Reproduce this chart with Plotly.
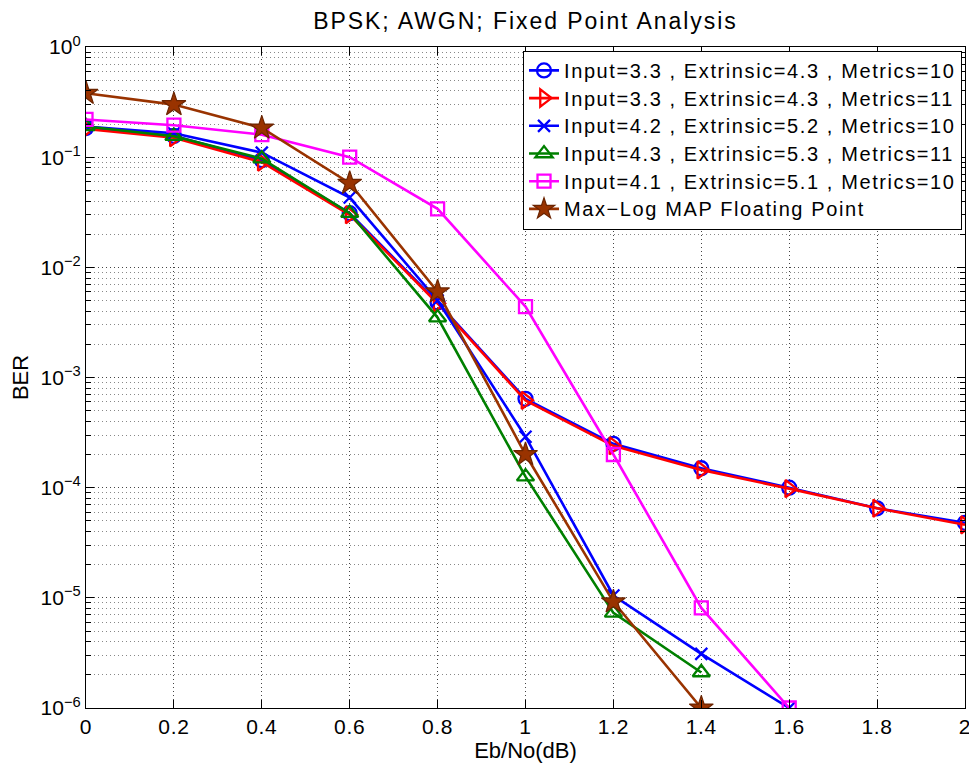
import plotly.graph_objects as go

ebno = [0, 0.2, 0.4, 0.6, 0.8, 1.0, 1.2, 1.4, 1.6, 1.8, 2.0]

ber_in33_ex43_m10 = [0.184, 0.156, 0.094, 0.031, 0.0048, 6.4e-4, 2.5e-4, 1.5e-4, 1.0e-4, 6.5e-5, 4.8e-5]
ber_in33_ex43_m11 = [0.18, 0.15, 0.09, 0.030, 0.0047, 6.2e-4, 2.4e-4, 1.45e-4, 9.8e-5, 6.5e-5, 4.6e-5]
ber_in42_ex52_m10 = [0.19, 0.165, 0.110, 0.043, 0.0050, 2.9e-4, 1.05e-5, 3.1e-6, 1.0e-6]
ber_in43_ex53_m11 = [0.19, 0.155, 0.097, 0.031, 0.0035, 1.26e-4, 7.3e-6, 2.1e-6]
ber_in41_ex51_m10 = [0.22, 0.195, 0.16, 0.10, 0.034, 0.0044, 2.0e-4, 8.1e-6, 1.0e-6]
ber_maxlog_float = [0.38, 0.30, 0.184, 0.058, 0.0060, 2.0e-4, 9.2e-6, 1.0e-6]

names = [
    "Input=3.3 , Extrinsic=4.3 , Metrics=10",
    "Input=3.3 , Extrinsic=4.3 , Metrics=11",
    "Input=4.2 , Extrinsic=5.2 , Metrics=10",
    "Input=4.3 , Extrinsic=5.3 , Metrics=11",
    "Input=4.1 , Extrinsic=5.1 , Metrics=10",
    "Max\u2212Log MAP Floating Point",
]
series = [ber_in33_ex43_m10, ber_in33_ex43_m11, ber_in42_ex52_m10,
          ber_in43_ex53_m11, ber_in41_ex51_m10, ber_maxlog_float]
colors = ["#0000ff", "#ff0000", "#0000ff", "#008000", "#ff00ff", "#993300"]
symbols = ["circle-open", "triangle-right-open", "x-thin-open", "triangle-up-open",
           "square-open", "star"]
sizes = [14, 15, 12, 15, 13, 18]

y_tickvals = [1e-6, 1e-5, 1e-4, 1e-3, 1e-2, 1e-1, 1]
y_ticktext = ["10<sup>\u22126</sup>", "10<sup>\u22125</sup>", "10<sup>\u22124</sup>",
              "10<sup>\u22123</sup>", "10<sup>\u22122</sup>", "10<sup>\u22121</sup>", "10<sup>0</sup>"]
x_tickvals = [0, 0.2, 0.4, 0.6, 0.8, 1.0, 1.2, 1.4, 1.6, 1.8, 2.0]
x_ticktext = ["0", "0.2", "0.4", "0.6", "0.8", "1", "1.2", "1.4", "1.6", "1.8", "2"]

FONT = "Liberation Sans, Arial, Helvetica, sans-serif"


def spaced(text, px, size=None):
    style = f"letter-spacing:{px}px"
    if size:
        style += f";font-size:{size}px"
    return f'<span style="{style}">{text}</span>'


fig = go.Figure()
for i, (name, ys) in enumerate(zip(names, series)):
    marker = dict(symbol=symbols[i], size=sizes[i], color=colors[i],
                  line=dict(width=2.3, color=colors[i]))
    if symbols[i] == "star":
        marker["line"] = dict(width=1.2, color="#6b2400")
    fig.add_trace(go.Scatter(
        x=ebno[:len(ys)], y=ys, name=spaced(name, 1.6, 20), mode="lines+markers",
        line=dict(color=colors[i], width=2.6),
        marker=marker,
    ))

axis_common = dict(
    automargin=False,
    showline=True, linecolor="black", linewidth=1.3, mirror="ticks",
    ticks="inside", ticklen=8, tickcolor="black", tickwidth=1,
    showgrid=True, gridcolor="#444444", griddash="1px,3px", gridwidth=1,
    zeroline=False, tickfont=dict(size=21, color="black", family=FONT),
)

fig.update_xaxes(range=[0, 2], tickvals=x_tickvals,
                 ticktext=[spaced(t, 0.7) for t in x_ticktext],
                 title=dict(text="Eb/No(dB)", font=dict(size=22, color="black", family=FONT), standoff=0),
                 **axis_common)
fig.update_yaxes(type="log", range=[-6, 0], tickvals=y_tickvals, ticktext=y_ticktext,
                 title=dict(text="BER", font=dict(size=22, color="black", family=FONT), standoff=12),
                 minor=dict(showgrid=True, gridcolor="#888888", griddash="1px,3px", gridwidth=1,
                            ticks="inside", ticklen=5, tickcolor="black",
                            tickvals=[m * 10 ** e for e in range(-6, 0) for m in range(2, 10)]),
                 **axis_common)

fig.update_layout(
    width=969, height=757,
    margin=dict(l=78, r=12, t=39, b=57, autoexpand=False),
    paper_bgcolor="white", plot_bgcolor="white",
    font=dict(family=FONT, color="black"),
    title=dict(text=spaced("BPSK; AWGN; Fixed Point Analysis", 1.95),
               x=0.5, xref="paper", xanchor="center",
               y=0.983, yref="container", yanchor="middle",
               font=dict(size=23, color="black", family=FONT)),
    legend=dict(x=0.9966, xanchor="right", y=0.9946, yanchor="top",
                bgcolor="white", bordercolor="black", borderwidth=1,
                font=dict(size=19, color="black", family=FONT),
                itemwidth=30),
    showlegend=True,
)

fig.write_html("out.html")
